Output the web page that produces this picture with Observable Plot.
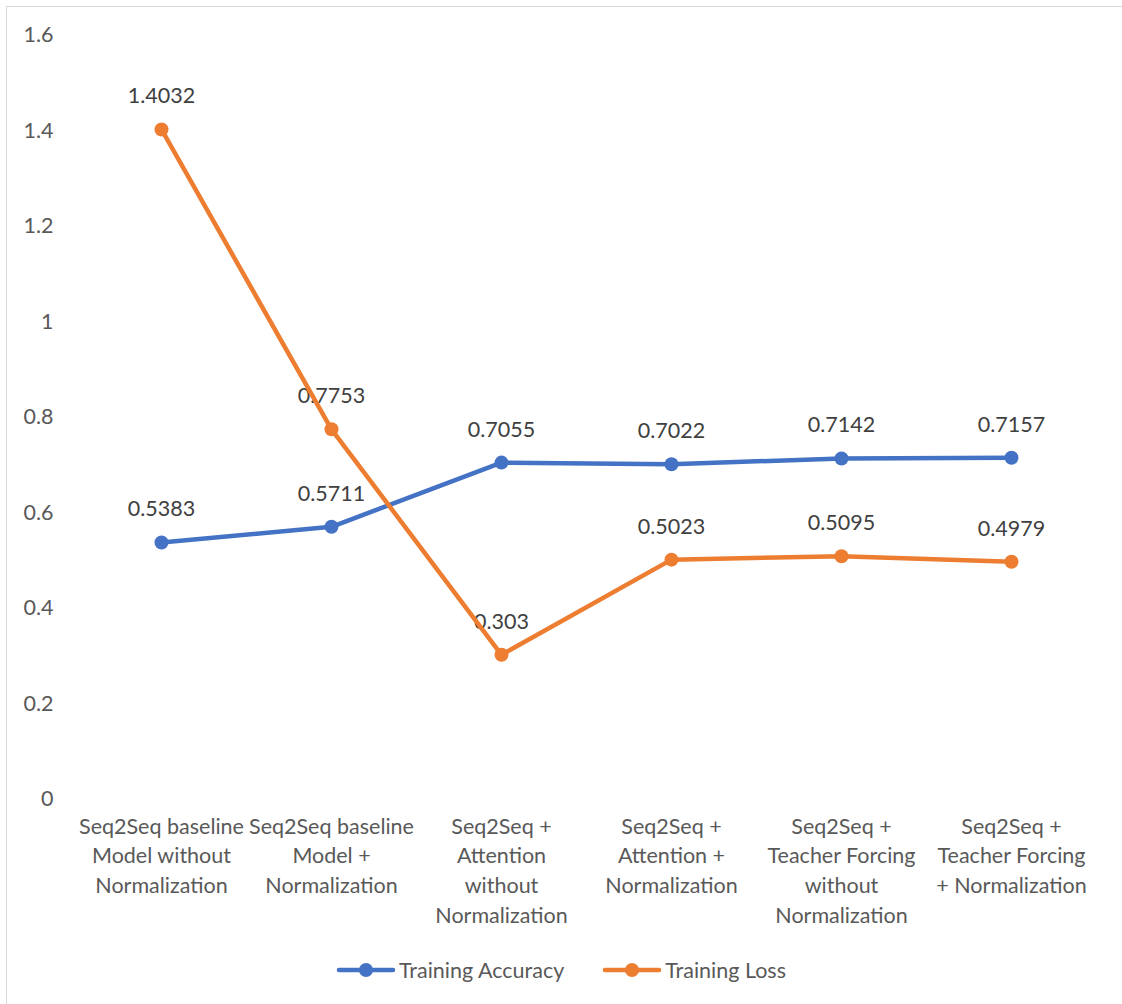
<!DOCTYPE html>
<html>
<head>
<meta charset="utf-8">
<script src="https://cdn.jsdelivr.net/npm/d3@7"></script>
<script src="https://cdn.jsdelivr.net/npm/@observablehq/plot@0.6"></script>
<style>
  html, body { margin: 0; padding: 0; background: #fff; }
  #frame {
    position: relative; width: 1122px; height: 1004px; overflow: hidden;
    font-family: Lato, "Open Sans", sans-serif;
  }
  #border {
    position: absolute; left: 6px; top: 6px; width: 1120px; height: 1000px;
    border: 1px solid #d9d9d9; box-sizing: border-box; pointer-events: none;
  }
  #chart { position: absolute; left: 0; top: 0; }
  #legend {
    position: absolute; left: 0; top: 956px; width: 1122px; height: 28px;
    display: flex; justify-content: center; align-items: center; gap: 38px;
    font-size: 21.5px; color: #595959;
  }
  .item { display: flex; align-items: center; }
  .item svg { margin-right: 3px; }
</style>
</head>
<body>
<div id="frame">
  <div id="chart"></div>
  <div id="legend"></div>
  <div id="border"></div>
</div>
<script>
// Model variants along the x axis
const models = [
  "Seq2Seq baseline Model without Normalization",
  "Seq2Seq baseline Model + Normalization",
  "Seq2Seq + Attention without Normalization",
  "Seq2Seq + Attention + Normalization",
  "Seq2Seq + Teacher Forcing without Normalization",
  "Seq2Seq + Teacher Forcing + Normalization"
];
// Wrapped tick labels for each model
const tickLabels = [
  "Seq2Seq baseline\nModel without\nNormalization",
  "Seq2Seq baseline\nModel +\nNormalization",
  "Seq2Seq +\nAttention\nwithout\nNormalization",
  "Seq2Seq +\nAttention +\nNormalization",
  "Seq2Seq +\nTeacher Forcing\nwithout\nNormalization",
  "Seq2Seq +\nTeacher Forcing\n+ Normalization"
];
const accuracy = [0.5383, 0.5711, 0.7055, 0.7022, 0.7142, 0.7157];
const loss = [1.4032, 0.7753, 0.303, 0.5023, 0.5095, 0.4979];
const seriesNames = ["Training Accuracy", "Training Loss"];
const seriesColors = ["#4472C4", "#ED7D31"];
const yTicks = [0, 0.2, 0.4, 0.6, 0.8, 1, 1.2, 1.4, 1.6];

const rows = [
  ...models.map((m, i) => ({model: m, value: accuracy[i], series: seriesNames[0]})),
  ...models.map((m, i) => ({model: m, value: loss[i], series: seriesNames[1]}))
];
const labelOf = new Map(models.map((m, i) => [m, tickLabels[i]]));

const chart = Plot.plot({
  width: 1122,
  height: 940,
  marginLeft: 76,
  marginRight: 26,
  marginTop: 35,
  marginBottom: 141,
  style: {fontFamily: "Lato, 'Open Sans', sans-serif", fontSize: "21.5px", color: "#595959", background: "transparent"},
  x: {type: "point", domain: models, padding: 0.5, axis: null},
  y: {domain: [0, 1.6], axis: null},
  color: {domain: seriesNames, range: seriesColors},
  marks: [
    Plot.gridY(yTicks, {stroke: "#d9d9d9", strokeOpacity: 1, strokeWidth: 1.6, x1: 76, x2: 1096}),
    Plot.axisY(yTicks, {tickSize: 0, tickPadding: 23, fill: "#595959", fontSize: 21.5, tickFormat: d => String(d), label: null}),
    Plot.axisX(models, {tickSize: 0, tickPadding: 0, dy: 13, fill: "#595959", fontSize: 21.5, lineHeight: 1.38, textAnchor: "middle", lineAnchor: "top", tickFormat: d => labelOf.get(d), label: null}),
    Plot.text(rows, {x: "model", y: "value", text: d => String(d.value), dy: -33, fill: "#404040", fontSize: 21.5}),
    Plot.line(rows, {x: "model", y: "value", z: "series", stroke: "series", strokeWidth: 4.5, strokeLinecap: "round", strokeLinejoin: "round"}),
    Plot.dot(rows, {x: "model", y: "value", fill: "series", r: 7})
  ]
});
document.getElementById("chart").appendChild(chart);

// Legend below the plot
const legend = d3.select("#legend");
seriesNames.forEach((name, i) => {
  const item = legend.append("div").attr("class", "item");
  const s = item.append("svg").attr("width", 60).attr("height", 20);
  s.append("line").attr("x1", 3).attr("x2", 57).attr("y1", 10).attr("y2", 10)
    .attr("stroke", seriesColors[i]).attr("stroke-width", 4.5).attr("stroke-linecap", "round");
  s.append("circle").attr("cx", 30).attr("cy", 10).attr("r", 7).attr("fill", seriesColors[i]);
  item.append("span").text(name);
});
</script>
</body>
</html>
